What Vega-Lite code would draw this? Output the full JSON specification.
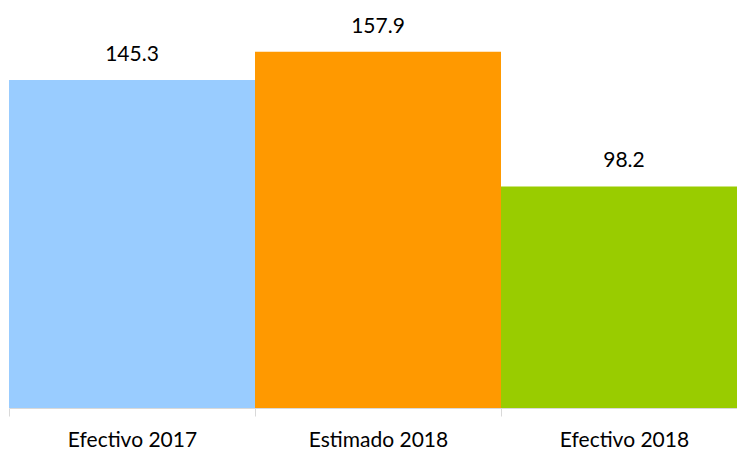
{
  "$schema": "https://vega.github.io/schema/vega-lite/v6.json",
  "autosize": "none",
  "width": 728,
  "height": 408,
  "padding": {"left": 9, "top": 0, "right": 0, "bottom": 41},
  "background": "white",
  "config": {"view": {"stroke": null}, "font": "Lato"},
  "data": {
    "values": [
      {"categoria": "Efectivo 2017", "valor": 145.3},
      {"categoria": "Estimado 2018", "valor": 157.9},
      {"categoria": "Efectivo 2018", "valor": 98.2}
    ]
  },
  "encoding": {
    "x": {
      "field": "categoria",
      "type": "nominal",
      "sort": null,
      "scale": {"paddingInner": 0, "paddingOuter": 0, "range": [0, 738]},
      "axis": {
        "title": null,
        "labelAngle": 0,
        "labelFontSize": 21,
        "labelColor": "#000000",
        "labelPadding": 13,
        "domainColor": "#D9D9D9",
        "tickColor": "#D9D9D9",
        "tickSize": 8,
        "tickBand": "extent",
        "labelFont": "Lato"
      }
    },
    "y": {
      "field": "valor",
      "type": "quantitative",
      "scale": {"domain": [0, 180.8], "nice": false},
      "axis": null
    }
  },
  "layer": [
    {
      "mark": {"type": "bar"},
      "encoding": {
        "color": {
          "field": "categoria",
          "type": "nominal",
          "scale": {
            "domain": ["Efectivo 2017", "Estimado 2018", "Efectivo 2018"],
            "range": ["#99CCFF", "#FF9900", "#99CC00"]
          },
          "legend": null
        }
      }
    },
    {
      "mark": {"type": "text", "baseline": "alphabetic", "dy": -19, "fontSize": 21, "color": "#000000", "font": "Lato"},
      "encoding": {
        "text": {"field": "valor", "type": "quantitative", "format": ".1f"}
      }
    }
  ]
}
